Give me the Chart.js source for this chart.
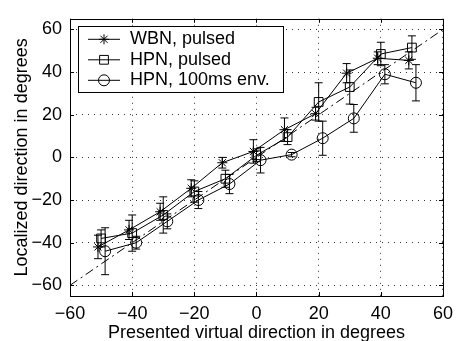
<!DOCTYPE html>
<html><head><meta charset="utf-8">
<script src="https://cdn.jsdelivr.net/npm/chart.js@4/dist/chart.umd.min.js"></script>
<style>html,body{margin:0;padding:0;background:#fff}#wrap{width:460px;height:341px}</style>
</head><body><div id="wrap"><canvas id="c" width="460" height="341"></canvas></div>
<script>
const directions = [-50, -40, -30, -20, -10, 0, 10, 20, 30, 40, 50];
const seriesLabels = ['WBN, pulsed', 'HPN, pulsed', 'HPN, 100ms env.'];
const wbnPulsed = [-42, -34, -25.5, -14.5, -2.5, 2.8, 13, 20.5, 39.5, 46.5, 45.5];
const wbnErr    = [5.5, 4.5, 4, 4, 2.5, 5.5, 5.5, 3, 4.5, 3, 4];
const hpnPulsed = [-38, -35.5, -27, -16, -10, 1, 9.5, 26, 33, 48.5, 51.5];
const hpnErr    = [4, 8.5, 8.5, 5, 4, 3, 3.5, 9, 8, 5.5, 5.5];
const hpnEnv    = [-44, -40, -30, -20, -12.5, -1.3, 1.3, 9, 18.3, 39, 35];
const envErr    = [11, 3, 3.5, 4, 4.5, 6, 1, 8, 6.5, 4.5, 8.5];
const diagonal  = [-60, 60];
const xTicks = [-60, -40, -20, 0, 20, 40, 60];
const yTicks = [-60, -40, -20, 0, 20, 40, 60];
const xTitle = 'Presented virtual direction in degrees';
const yTitle = 'Localized direction in degrees';

const FAM = '"Liberation Sans", Arial, Helvetica, sans-serif';
const FONT = {family: FAM, size: 18};
const fmt = v => (v < 0 ? '\u2212' + Math.abs(v) : String(v));

function pts(vals, dx) { return directions.map((d, i) => ({x: d + dx, y: vals[i]})); }
function mk(label, vals, err, dx, style, radius) {
  return {
    type: 'line', label, data: pts(vals, dx), err, dx,
    borderColor: '#000', borderWidth: 1, backgroundColor: 'rgba(0,0,0,0)',
    pointStyle: style, pointRadius: radius, pointBorderColor: '#000',
    pointBackgroundColor: 'rgba(0,0,0,0)', pointBorderWidth: 1, tension: 0, fill: false
  };
}

const datasets = [
  {type: 'line', label: '', data: diagonal.map(v => ({x: v, y: v})), borderColor: '#000', borderWidth: 1,
   borderDash: [9, 4, 2, 4], pointRadius: 0, fill: false, isRef: true},
  mk(seriesLabels[0], wbnPulsed, wbnErr, -1, 'star', 5),
  mk(seriesLabels[1], hpnPulsed, hpnErr, 0, 'rect', 6.2),
  mk(seriesLabels[2], hpnEnv, envErr, 1.3, 'circle', 5.5)
];

const errorBars = {
  id: 'errorBars',
  afterDatasetsDraw(chart) {
    const {ctx, scales: {x, y}} = chart;
    ctx.save();
    ctx.strokeStyle = '#000'; ctx.lineWidth = 1;
    chart.data.datasets.forEach(ds => {
      if (!ds.err) return;
      ds.data.forEach((p, i) => {
        const px = x.getPixelForValue(p.x);
        const top = y.getPixelForValue(p.y + ds.err[i]);
        const bot = y.getPixelForValue(p.y - ds.err[i]);
        ctx.beginPath();
        ctx.moveTo(px, top); ctx.lineTo(px, bot);
        ctx.moveTo(px - 4, top); ctx.lineTo(px + 4, top);
        ctx.moveTo(px - 4, bot); ctx.lineTo(px + 4, bot);
        ctx.stroke();
      });
    });
    ctx.restore();
  }
};

const frame = {
  id: 'frame',
  afterDatasetsDraw(chart) {
    const {ctx, chartArea: a, scales: {x, y}} = chart;
    ctx.save();
    ctx.strokeStyle = '#000'; ctx.lineWidth = 1;
    ctx.strokeRect(Math.round(a.left) + 0.5, Math.round(a.top) + 0.5, Math.round(a.right - a.left), Math.round(a.bottom - a.top));
    ctx.beginPath();
    xTicks.forEach(v => {
      const px = Math.round(x.getPixelForValue(v)) + 0.5;
      ctx.moveTo(px, a.bottom); ctx.lineTo(px, a.bottom - 4);
      ctx.moveTo(px, a.top); ctx.lineTo(px, a.top + 4);
    });
    yTicks.forEach(v => {
      const py = Math.round(y.getPixelForValue(v)) + 0.5;
      ctx.moveTo(a.left, py); ctx.lineTo(a.left + 4, py);
      ctx.moveTo(a.right, py); ctx.lineTo(a.right - 4, py);
    });
    ctx.stroke();
    ctx.restore();
  }
};

const legendBox = {
  id: 'legendBox',
  afterDraw(chart) {
    const {ctx, chartArea: a} = chart;
    const bx = a.left + 8, by = a.top + 7, bw = 205, bh = 66;
    ctx.save();
    ctx.fillStyle = '#fff';
    ctx.fillRect(bx, by, bw, bh);
    ctx.strokeStyle = '#000'; ctx.lineWidth = 1;
    ctx.strokeRect(Math.round(bx) + 0.5, Math.round(by) + 0.5, bw, bh);
    const series = chart.data.datasets.filter(d => !d.isRef);
    series.forEach((ds, i) => {
      const cy = by + 13.5 + i * 20.5;
      ctx.strokeStyle = '#000'; ctx.lineWidth = 1;
      ctx.beginPath(); ctx.moveTo(bx + 10, cy); ctx.lineTo(bx + 42, cy); ctx.stroke();
      ctx.fillStyle = 'rgba(0,0,0,0)';
      Chart.helpers.drawPoint(ctx, {pointStyle: ds.pointStyle, radius: ds.pointRadius, rotation: 0, borderWidth: 1}, bx + 26, cy);
      ctx.fillStyle = '#000';
      ctx.font = '18px ' + FAM;
      ctx.textBaseline = 'middle';
      ctx.textAlign = 'left';
      ctx.fillText(ds.label, bx + 52, cy);
    });
    ctx.restore();
  }
};

new Chart(document.getElementById('c'), {
  type: 'line',
  data: {datasets},
  options: {
    responsive: false, animation: false,
    layout: {padding: {left: 0, right: 11, top: 13, bottom: 0}},
    plugins: {legend: {display: false}, tooltip: {enabled: false}},
    scales: {
      x: {
        type: 'linear', min: -60, max: 60,
        afterBuildTicks: s => { s.ticks = xTicks.map(v => ({value: v})); },
        afterFit: s => { s.height = 45; },
        ticks: {font: FONT, color: '#000', padding: 7, maxRotation: 0, callback: fmt},
        grid: {color: '#333', lineWidth: 1, drawTicks: false},
        border: {display: false, dash: [1, 5]},
        title: {display: true, text: xTitle, font: FONT, color: '#000', padding: {top: 0, bottom: -3}}
      },
      y: {
        type: 'linear', min: -65, max: 65,
        afterBuildTicks: s => { s.ticks = yTicks.map(v => ({value: v})); },
        afterFit: s => { s.width = 70; },
        ticks: {font: FONT, color: '#000', padding: 8, callback: fmt},
        grid: {color: '#333', lineWidth: 1, drawTicks: false},
        border: {display: false, dash: [1, 5]},
        title: {display: true, text: yTitle, font: FONT, color: '#000', padding: {top: 11, bottom: 0}}
      }
    }
  },
  plugins: [errorBars, frame, legendBox]
});
</script>
</body></html>
